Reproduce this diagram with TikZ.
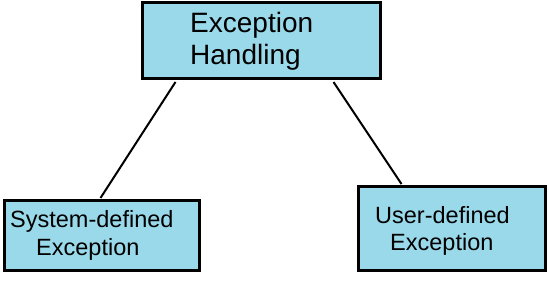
\documentclass[tikz,border=0pt]{standalone}
\usepackage{fontspec}
\setmainfont{Liberation Sans}
\definecolor{boxblue}{RGB}{153,217,234}
\begin{document}
\begin{tikzpicture}[x=1pt,y=-1pt,
  box/.style={draw=black,line width=3pt,fill=boxblue,rectangle,inner sep=0pt},
  big/.style={inner sep=0pt,anchor=base west,font=\fontsize{28}{32}\selectfont},
  small/.style={inner sep=0pt,anchor=base west,font=\fontsize{23.5}{27}\selectfont},
  conn/.style={draw=black,line width=2pt}]
\useasboundingbox (0,0) rectangle (549,283);
\node[box,minimum width=238pt,minimum height=76pt] (top) at (261,41) {};
\node[box,minimum width=195pt,minimum height=70pt] (left) at (101.5,236) {};
\node[box,minimum width=187pt,minimum height=84pt] (right) at (451.5,229) {};
\node[big] (t1) at (190,33) {Exception};
\node[big] (t2) at (190,65) {Handling};
\node[small] (l1) at (10,228) {System-defined};
\node[small] (l2) at (36,255) {Exception};
\node[small] (r1) at (375,224) {User-defined};
\node[small] (r2) at (390,251) {Exception};
\draw[conn] ([xshift=35pt,yshift=-1.5pt]top.south west) -- ([xshift=98pt,yshift=1.5pt]left.north west);
\draw[conn] ([xshift=-48pt,yshift=-1.5pt]top.south east) -- ([xshift=45pt,yshift=1.5pt]right.north west);
\end{tikzpicture}
\end{document}
